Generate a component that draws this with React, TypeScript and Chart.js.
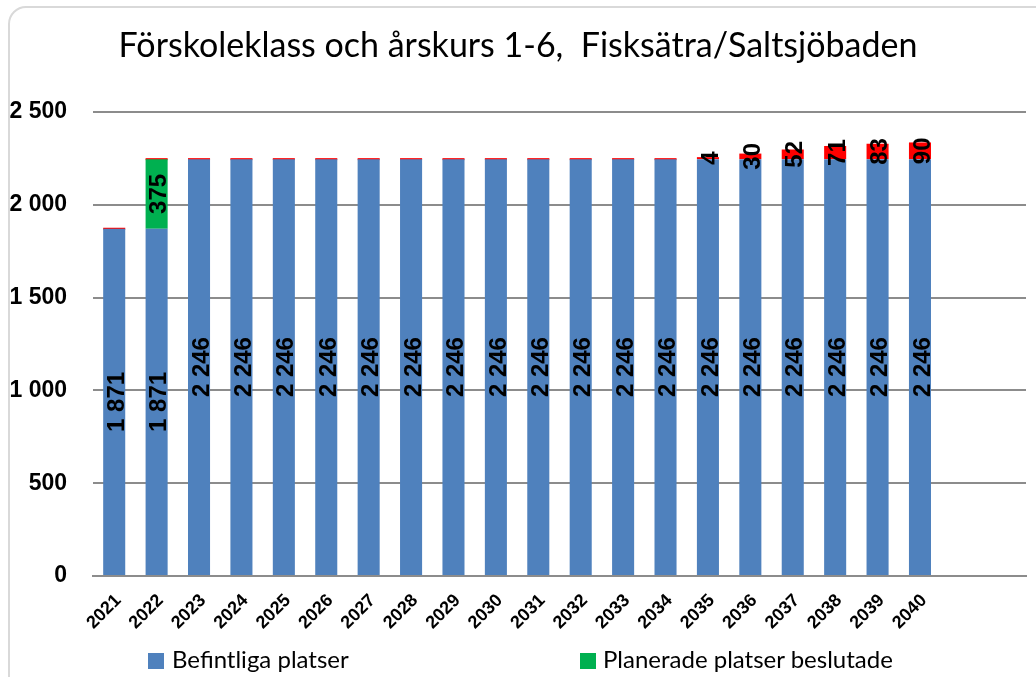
import React, { useEffect, useRef } from "react";
import { Chart, registerables } from "chart.js";

Chart.register(...registerables);

const TITLE = "Förskoleklass och årskurs 1-6,  Fisksätra/Saltsjöbaden";
const CATEGORIES = [
  "2021", "2022", "2023", "2024", "2025", "2026", "2027", "2028", "2029", "2030",
  "2031", "2032", "2033", "2034", "2035", "2036", "2037", "2038", "2039", "2040", "", "",
];
const BEFINTLIGA = [
  1871, 1871, 2246, 2246, 2246, 2246, 2246, 2246, 2246, 2246,
  2246, 2246, 2246, 2246, 2246, 2246, 2246, 2246, 2246, 2246, null, null,
];
const PLANERADE = [0, 375, 0, 0, 0, 0, 0, 0, 0, 0, 0, 0, 0, 0, 0, 0, 0, 0, 0, 0, null, null];
const BEHOV = [0, 0, 0, 0, 0, 0, 0, 0, 0, 0, 0, 0, 0, 0, 4, 30, 52, 71, 83, 90, null, null];
const Y_TICKS = [0, 500, 1000, 1500, 2000, 2500];

const BLUE = "#4F81BD";
const GREEN = "#00B050";
const RED = "#FF0000";

const fmt = (v: number) => String(v).replace(/\B(?=(\d{3})+(?!\d))/g, " ");

const labelPlugin = {
  id: "barLabels",
  afterDatasetsDraw(chart: any) {
    const ctx = chart.ctx;
    chart.data.datasets.forEach((ds: any, di: number) => {
      const meta = chart.getDatasetMeta(di);
      meta.data.forEach((bar: any, i: number) => {
        const v = ds.data[i];
        if (!v) return;
        const p = bar.getProps(["x", "y", "base"], true);
        const cy = (p.y + p.base) / 2;
        ctx.save();
        ctx.translate(p.x + 3, cy);
        ctx.rotate(-Math.PI / 2);
        ctx.font = 'bold 24px "Liberation Sans", Arial, sans-serif';
        ctx.fillStyle = "#000";
        ctx.textAlign = "center";
        ctx.textBaseline = "middle";
        ctx.fillText(fmt(v), 0, 0);
        ctx.restore();
      });
    });
  },
};

export default function App() {
  const ref = useRef<HTMLCanvasElement | null>(null);

  useEffect(() => {
    if (!ref.current) return;
    const chart = new Chart(ref.current, {
      type: "bar",
      data: {
        labels: CATEGORIES,
        datasets: [
          {
            label: "Befintliga platser",
            data: BEFINTLIGA,
            backgroundColor: BLUE,
            categoryPercentage: 1,
            barPercentage: 0.52,
          },
          {
            label: "Planerade platser beslutade",
            data: PLANERADE,
            backgroundColor: GREEN,
            categoryPercentage: 1,
            barPercentage: 0.52,
          },
          {
            label: "Behov av platser",
            data: BEHOV,
            backgroundColor: RED,
            categoryPercentage: 1,
            barPercentage: 0.52,
            minBarLength: 2,
          },
        ],
      } as any,
      options: {
        animation: false,
        responsive: false,
        layout: { padding: { top: 112, right: 10, left: 0, bottom: 0 } },
        plugins: {
          legend: { display: false },
          title: { display: false },
          tooltip: { enabled: false },
        },
        scales: {
          x: {
            stacked: true,
            grid: { display: false },
            border: { display: true, color: "#8c8c8c", width: 2 },
            ticks: {
              autoSkip: false,
              maxRotation: 45,
              minRotation: 45,
              padding: 6,
              labelOffset: 4,
              color: "#000",
              font: { family: '"Liberation Sans", Arial, sans-serif', size: 18, weight: "bold" },
            },
            afterFit: (s: any) => {
              s.height = 101;
            },
          },
          y: {
            stacked: true,
            min: 0,
            max: 2500,
            afterBuildTicks: (s: any) => {
              s.ticks = Y_TICKS.map((v) => ({ value: v }));
            },
            grid: { color: "#8c8c8c", lineWidth: 2, drawTicks: false },
            border: { display: false },
            ticks: {
              padding: 26,
              color: "#000",
              font: { family: '"Liberation Sans", Arial, sans-serif', size: 23, weight: "bold" },
              callback: (v: any) => fmt(Number(v)),
            },
            afterFit: (s: any) => {
              s.width = 93;
            },
          },
        },
      } as any,
      plugins: [labelPlugin],
    });
    return () => chart.destroy();
  }, []);

  return (
    <div style={{ position: "absolute", left: 0, top: 0, width: 1036, height: 677, overflow: "hidden", background: "#fff" }}>
      <div
        style={{
          position: "absolute",
          left: 8,
          top: 6,
          width: 1060,
          height: 700,
          border: "2px solid #d9d9d9",
          borderRadius: 18,
          boxSizing: "border-box",
        }}
      />
      <canvas ref={ref} width={1036} height={677} style={{ position: "absolute", left: 0, top: 0, display: "block" }} />
      <div
        style={{
          position: "absolute",
          left: 0,
          top: 23,
          width: 1036,
          textAlign: "center",
          fontFamily: "Lato, 'Liberation Sans', sans-serif",
          fontSize: 34,
          color: "#000",
          whiteSpace: "pre",
        }}
      >
        {TITLE}
      </div>
      <div style={{ position: "absolute", left: 148, top: 653, width: 16, height: 16, background: BLUE }} />
      <div
        style={{
          position: "absolute",
          left: 172,
          top: 644,
          fontFamily: "Lato, 'Liberation Sans', sans-serif",
          fontSize: 24,
          color: "#000",
          whiteSpace: "nowrap",
        }}
      >
        Befintliga platser
      </div>
      <div style={{ position: "absolute", left: 580, top: 653, width: 16, height: 16, background: GREEN }} />
      <div
        style={{
          position: "absolute",
          left: 603,
          top: 644,
          fontFamily: "Lato, 'Liberation Sans', sans-serif",
          fontSize: 24,
          color: "#000",
          whiteSpace: "nowrap",
        }}
      >
        Planerade platser beslutade
      </div>
    </div>
  );
}
